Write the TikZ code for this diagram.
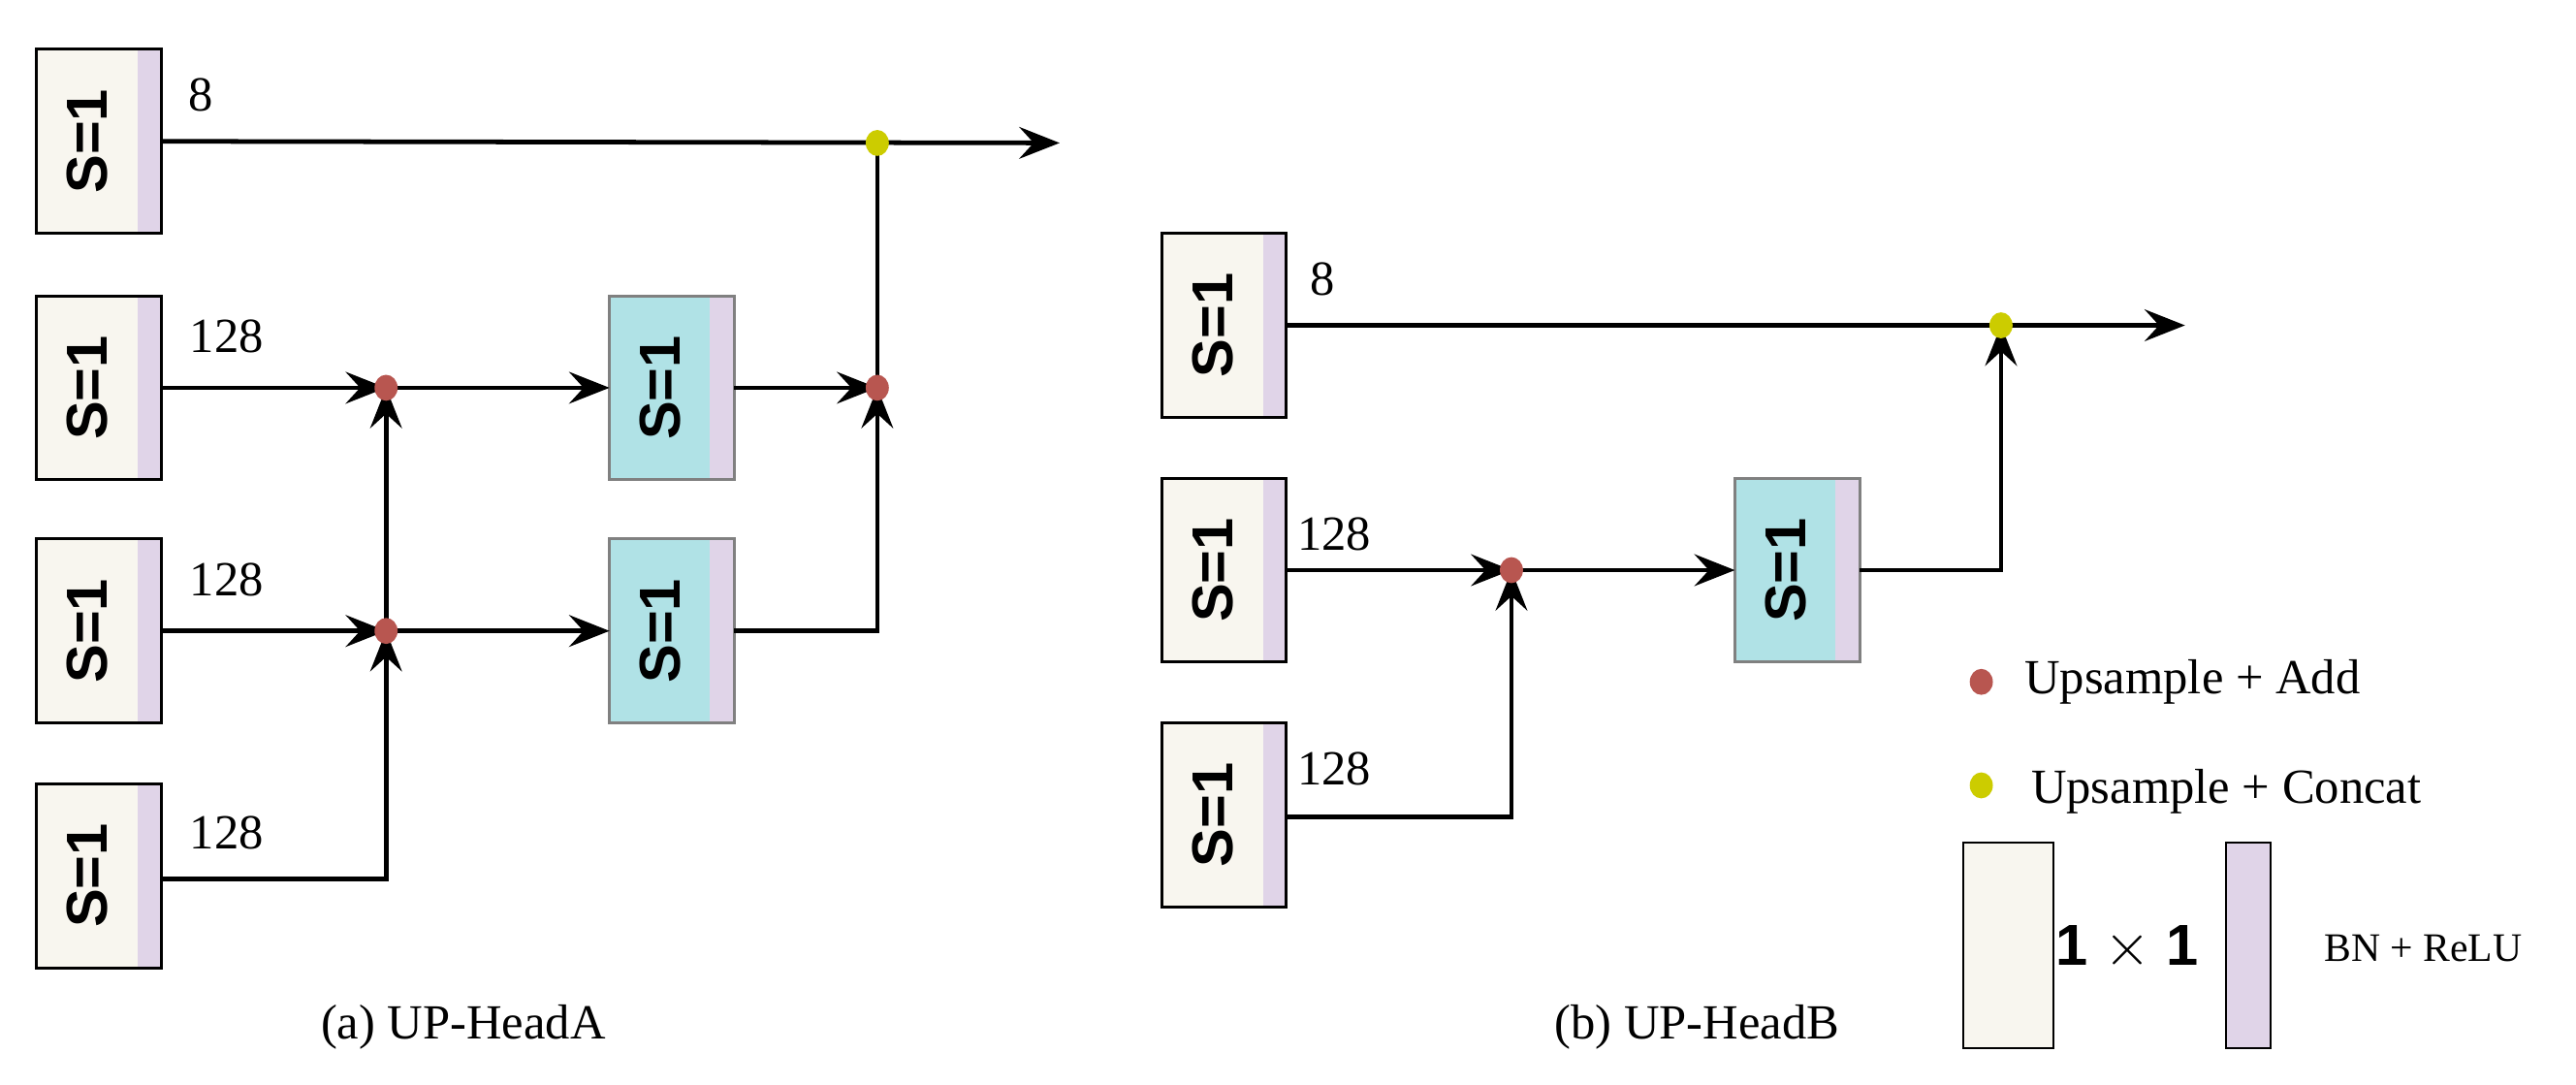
\documentclass[tikz,border=0pt]{standalone}
\usepackage{fontspec}
\setmainfont{Liberation Serif}
\newfontfamily\sfb{Liberation Sans}
\usetikzlibrary{arrows.meta,shapes.geometric}
\definecolor{beige}{HTML}{F8F6EF}
\definecolor{lav}{HTML}{E0D4E8}
\definecolor{cyanb}{HTML}{B0E2E6}
\definecolor{reddot}{HTML}{B85650}
\definecolor{yeldot}{HTML}{CCCC00}
\begin{document}
\begin{tikzpicture}[x=0.02cm,y=-0.02cm,
  ar/.style={line width=1.6pt,-{Stealth[length=14pt,width=11pt,inset=5pt]}},
  ln/.style={line width=1.6pt},
  lbl/.style={font=\fontsize{17}{20}\selectfont,inner sep=0},
  sl/.style={font=\sfb\bfseries\fontsize{20}{24}\selectfont,rotate=90,inner sep=0},
  rd/.style={fill=reddot,draw=none,ellipse,minimum width=8pt,minimum height=9pt,inner sep=0},
  yd/.style={fill=yeldot,draw=none,ellipse,minimum width=8pt,minimum height=9pt,inner sep=0},
]
\useasboundingbox (0,0) rectangle (1568,660);
\tikzset{blk/.pic={
  \fill[beige] (-38,-56) rectangle (24,56);
  \fill[lav] (24,-56) rectangle (38,56);
  \draw[line width=1pt] (-38,-56) rectangle (38,56);
  \node[sl] at (-7,0) {S=1};},
 cblk/.pic={
  \fill[cyanb] (-38,-56) rectangle (23,56);
  \fill[lav] (23,-56) rectangle (38,56);
  \draw[line width=1pt,gray] (-38,-56) rectangle (38,56);
  \node[sl] at (-7,0) {S=1};}}
% (a)
\pic at (60,86) {blk}; \pic at (60,236) {blk}; \pic at (60,384) {blk}; \pic at (60,533) {blk};
\pic at (409,236) {cblk}; \pic at (409,384) {cblk};
\coordinate (a1) at (98,86); \coordinate (a2) at (98,236); \coordinate (a3) at (98,384); \coordinate (a4) at (98,535);
\coordinate (c1i) at (371,236); \coordinate (c1o) at (447,236);
\coordinate (c2i) at (371,384); \coordinate (c2o) at (447,384);
\coordinate (y1) at (534,87); \coordinate (r1) at (235,236); \coordinate (r2) at (235,384); \coordinate (r3) at (534,236);
\coordinate (aend) at (645,87);
\draw[ar] (a1) -- (aend);
\draw[ar] (a2) -- (r1); \draw[ar] (r1) -- (c1i); \draw[ar] (c1o) -- (r3);
\draw[ar] (a3) -- (r2); \draw[ar] (r2) -- (c2i); \draw[ar] (c2o) -| (r3);
\draw[ar] (a4) -| (r2); \draw[ar] (r2) -- (r1);
\draw[ln] (r3) -- (y1);
\node[rd] at (r1) {}; \node[rd] at (r2) {}; \node[rd] at (r3) {};
\node[yd] at (y1) {};
\node[lbl] at (122,58) {8}; \node[lbl] at (138,205) {128}; \node[lbl] at (138,353) {128}; \node[lbl] at (138,507) {128};
\node[lbl] at (282,625) {(a) UP-HeadA};
% (b)
\pic at (745,198) {blk}; \pic at (745,347) {blk}; \pic at (745,496) {blk};
\pic at (1094,347) {cblk};
\coordinate (b1) at (783,198); \coordinate (b2) at (783,347); \coordinate (b3) at (783,497);
\coordinate (ci) at (1056,347); \coordinate (co) at (1132,347);
\coordinate (rb) at (920,347); \coordinate (yb) at (1218,198); \coordinate (bend) at (1330,198);
\draw[ar] (b1) -- (bend);
\draw[ar] (b2) -- (rb); \draw[ar] (rb) -- (ci); \draw[ar] (co) -| (yb);
\draw[ar] (b3) -| (rb);
\node[rd] at (rb) {};
\node[yd] at (yb) {};
\node[lbl] at (805,170) {8}; \node[lbl] at (812,325) {128}; \node[lbl] at (812,468) {128};
\node[lbl] at (1033,625) {(b) UP-HeadB};
% legend
\node[rd] (lr) at (1206,415) {};
\node[lbl,anchor=west] at (1232,415) {Upsample + Add};
\node[yd] (ly) at (1206,478) {};
\node[lbl,anchor=west] at (1236,482) {Upsample + Concat};
\draw[fill=beige,line width=0.8pt] (1195,513) rectangle (1250,638);
\node[font=\sfb\bfseries\fontsize{20}{24}\selectfont] at (1295,577) {1 $\times$ 1};
\draw[fill=lav,line width=0.8pt] (1355,513) rectangle (1382,638);
\node[font=\fontsize{14}{17}\selectfont] at (1475,577) {BN + ReLU};
\end{tikzpicture}
\end{document}
